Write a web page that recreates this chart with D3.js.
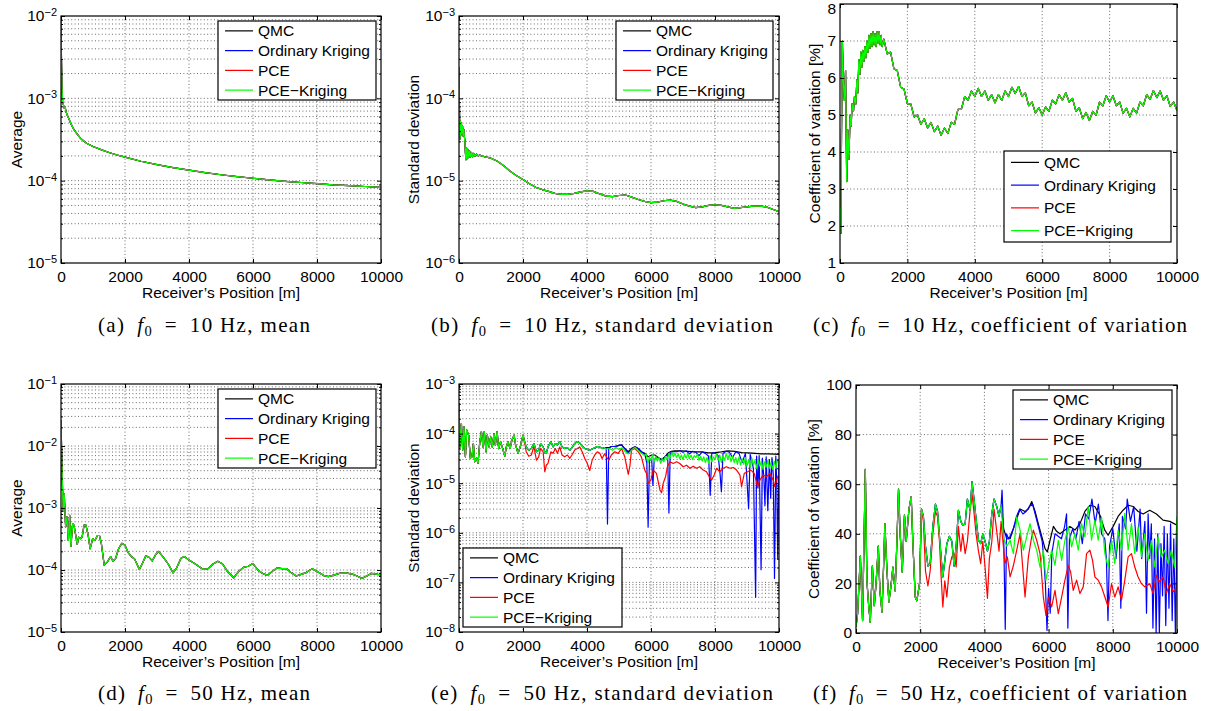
<!DOCTYPE html>
<html>
<head>
<meta charset="utf-8">
<script src="https://cdn.jsdelivr.net/npm/d3@7"></script>
<style>
  body { margin: 0; background: #fff; }
  svg { display: block; }
</style>
</head>
<body>
<svg id="svg" width="1210" height="711"></svg>
<script>
// ---- series names / colours ----
const seriesNames = ["QMC", "Ordinary Kriging", "PCE", "PCE\u2212Kriging"];
const colors = ["#000000", "#0000ff", "#ff0000", "#00ff00"];
const xTickVals = [0, 2000, 4000, 6000, 8000, 10000];

// ---- (a) f0 = 10 Hz, mean  [position m, value] (all four methods coincide) ----
const mean10 = [[0,9.5e-3],[15,3e-3],[30,1.4e-3],[50,9e-4],[80,8.2e-4],[100,7.6e-4],[130,7.8e-4],[160,6.8e-4],
  [200,6.2e-4],[250,5.6e-4],[300,5.0e-4],[400,4.2e-4],[500,3.7e-4],[600,3.3e-4],[700,3.05e-4],[800,2.85e-4],
  [1000,2.6e-4],[1250,2.38e-4],[1500,2.2e-4],[1750,2.05e-4],[2000,1.93e-4],[2500,1.72e-4],[3000,1.57e-4],
  [3500,1.44e-4],[4000,1.34e-4],[4500,1.25e-4],[5000,1.18e-4],[5500,1.12e-4],[6000,1.07e-4],[6500,1.02e-4],
  [7000,9.8e-5],[7500,9.5e-5],[8000,9.2e-5],[8500,8.9e-5],[9000,8.7e-5],[9500,8.5e-5],[10000,8.3e-5]];

// ---- (b) f0 = 10 Hz, standard deviation ----
const std10 = [[0,2.4e-4],[10,1.1e-4],[20,5e-5],[30,3.2e-5],[45,5.3e-5],[60,3.6e-5],[75,5.0e-5],[90,3.8e-5],
  [110,4.6e-5],[130,3.5e-5],[150,4.2e-5],[170,3.4e-5],[185,3.0e-5],[200,2.2e-5],[215,1.8e-5],[235,2.5e-5],
  [255,1.85e-5],[280,2.4e-5],[305,1.9e-5],[330,2.3e-5],[360,1.95e-5],[390,2.2e-5],[420,1.95e-5],[460,2.15e-5],
  [500,1.98e-5],[550,2.1e-5],[600,2.0e-5],[650,2.05e-5],[700,2.0e-5],[800,1.95e-5],[900,1.92e-5],[1000,1.87e-5],
  [1200,1.72e-5],[1400,1.52e-5],[1600,1.3e-5],[1800,1.15e-5],[2000,1.03e-5],[2200,9.2e-6],[2400,8.3e-6],
  [2600,7.8e-6],[2800,7.4e-6],[3000,7.0e-6],[3200,6.8e-6],[3400,6.8e-6],[3600,7.0e-6],[3800,7.3e-6],[4000,7.5e-6],
  [4200,7.4e-6],[4400,6.9e-6],[4600,6.5e-6],[4800,6.4e-6],[5000,6.6e-6],[5200,6.7e-6],[5400,6.3e-6],[5600,5.9e-6],
  [5800,5.6e-6],[6000,5.4e-6],[6200,5.5e-6],[6400,5.7e-6],[6600,5.8e-6],[6800,5.6e-6],[7000,5.2e-6],[7200,4.9e-6],
  [7400,4.7e-6],[7600,4.8e-6],[7800,5.0e-6],[8000,5.1e-6],[8200,5.0e-6],[8400,4.8e-6],[8600,4.6e-6],[8800,4.7e-6],
  [9000,4.8e-6],[9200,4.9e-6],[9400,4.9e-6],[9600,4.8e-6],[9800,4.5e-6],[10000,4.2e-6]];

// ---- (c) f0 = 10 Hz, coefficient of variation [%] ----
const cov10 = [[0,2.5],[25,1.8],[45,4.5],[70,7.0],[100,5.9],[130,5.4],[165,6.2],[200,3.2],[230,4.6],[265,3.8],
  [300,5.0],[330,4.7],[360,5.3],[400,5.1],[430,5.5],[470,5.3],[500,5.95],[530,5.6],[560,6.5],[590,6.1],[620,6.7],
  [650,6.3],[680,6.75],[710,6.45],[740,6.85],[770,6.55],[800,7.0],[830,6.7],[860,7.15],[890,6.8],[920,7.2],
  [950,6.85],[980,7.25],[1010,6.9],[1040,7.2],[1070,6.85],[1100,7.25],[1130,6.95],[1160,7.25],[1190,6.9],
  [1220,7.15],[1250,6.85],[1300,7.05],[1400,6.65],[1500,6.7],[1600,6.25],[1700,6.2],[1800,5.75],[1900,5.7],
  [2000,5.3],[2100,5.3],[2200,4.95],[2300,5.0],[2400,4.75],[2500,4.9],[2600,4.65],[2700,4.8],[2800,4.55],
  [2900,4.7],[3000,4.45],[3100,4.65],[3200,4.5],[3300,4.8],[3400,4.75],[3500,5.15],[3600,5.15],[3700,5.5],
  [3800,5.4],[3900,5.65],[4000,5.5],[4100,5.72],[4200,5.5],[4300,5.65],[4400,5.4],[4500,5.55],[4600,5.33],
  [4700,5.55],[4800,5.4],[4900,5.65],[5000,5.5],[5100,5.75],[5200,5.58],[5300,5.77],[5400,5.5],[5500,5.6],
  [5600,5.25],[5700,5.35],[5800,5.05],[5900,5.2],[6000,5.0],[6100,5.22],[6200,5.1],[6300,5.4],[6400,5.3],
  [6500,5.55],[6600,5.4],[6700,5.6],[6800,5.35],[6900,5.45],[7000,5.1],[7100,5.2],[7200,4.9],[7300,5.07],
  [7400,4.85],[7500,5.1],[7600,5.0],[7700,5.35],[7800,5.25],[7900,5.52],[8000,5.35],[8100,5.52],[8200,5.25],
  [8300,5.35],[8400,5.05],[8500,5.18],[8600,4.95],[8700,5.18],[8800,5.05],[8900,5.35],[9000,5.25],[9100,5.55],
  [9200,5.42],[9300,5.66],[9400,5.47],[9500,5.65],[9600,5.4],[9700,5.52],[9800,5.23],[9900,5.35],[10000,5.12]];

// ---- (d) f0 = 50 Hz, mean ----
const mean50 = [[0,2.6e-2],[40,2.8e-3],[70,9e-4],[100,1.7e-3],[145,5e-4],[185,7.2e-4],[230,3.0e-4],[270,7.6e-4],
  [310,2.4e-4],[365,5.6e-4],[405,5.3e-4],[450,3.9e-4],[510,2.6e-4],[550,3.4e-4],[600,3.2e-4],[660,3.4e-4],
  [720,5.3e-4],[780,5.3e-4],[850,3.6e-4],[910,2.2e-4],[990,3.2e-4],[1060,3.0e-4],[1140,3.6e-4],[1200,3.6e-4],
  [1260,2.7e-4],[1350,1.2e-4],[1450,1.35e-4],[1550,1.65e-4],[1620,1.4e-4],[1700,1.5e-4],[1800,2.2e-4],
  [1900,2.7e-4],[2000,2.5e-4],[2100,1.9e-4],[2200,1.65e-4],[2300,1.5e-4],[2450,1.02e-4],[2550,1.3e-4],
  [2650,1.7e-4],[2750,1.6e-4],[2850,1.4e-4],[2950,1.75e-4],[3050,2.0e-4],[3200,1.6e-4],[3350,1.25e-4],
  [3500,9e-5],[3600,1.05e-4],[3750,1.55e-4],[3850,1.65e-4],[4000,1.45e-4],[4150,1.3e-4],[4300,1.15e-4],
  [4450,1.02e-4],[4600,1.05e-4],[4750,1.25e-4],[4900,1.38e-4],[5050,1.25e-4],[5200,9.5e-5],[5400,7.5e-5],
  [5550,9.5e-5],[5700,1.1e-4],[5850,1.15e-4],[6000,1.27e-4],[6150,1.0e-4],[6300,8.8e-5],[6450,8.2e-5],
  [6600,9.5e-5],[6750,1.08e-4],[6900,1.05e-4],[7050,1.05e-4],[7200,9e-5],[7350,8e-5],[7500,8.5e-5],
  [7650,9e-5],[7850,1.05e-4],[8000,9.5e-5],[8200,8.2e-5],[8350,7.8e-5],[8500,8.2e-5],[8700,8.8e-5],
  [8900,9e-5],[9100,8.6e-5],[9250,8e-5],[9400,7.3e-5],[9550,8e-5],[9700,8.8e-5],[9850,8.6e-5],[10000,8.3e-5]];

// ---- (e) f0 = 50 Hz, standard deviation ----
const std50Early = [[0,4.0e-4],[30,5.4e-5],[75,1.6e-4],[115,4.7e-5],[155,1.37e-4],[200,3.4e-5],[240,1.18e-4],
  [300,9.3e-5],[355,3.2e-5],[405,3.4e-5],[450,6.3e-5],[490,2.7e-5],[550,3.2e-5],[595,2.5e-5],[645,6.3e-5],
  [700,1.1e-4],[750,5.4e-5],[790,1.1e-4],[845,4.3e-5],[885,9.3e-5],[940,5.4e-5],[990,8.6e-5],[1040,5.4e-5],
  [1095,1.0e-4],[1135,5.9e-5],[1190,1.1e-4],[1240,5.0e-5],[1300,6.9e-5],[1375,4.7e-5],[1430,3.5e-5],
  [1480,5.4e-5],[1530,6.9e-5],[1595,5.0e-5],[1655,7.4e-5],[1720,9.3e-5],[1770,5.9e-5],[1845,4.0e-5],
  [1930,5.9e-5],[2000,9.3e-5]];
const std50Mid = [[2050,6.9e-5],[2100,5.4e-5],[2180,4.6e-5],[2260,5.0e-5],[2340,6.3e-5],[2420,4.3e-5],
  [2490,4.6e-5],[2550,6.3e-5],[2630,5.4e-5],[2680,4.3e-5],[2730,4.0e-5],[2780,5.4e-5],[2870,6.9e-5],
  [2940,5.4e-5],[3010,6.3e-5],[3075,5.9e-5],[3150,6.9e-5],[3220,5.4e-5],[3300,5.0e-5],[3390,5.2e-5],
  [3460,4.6e-5],[3530,5.2e-5],[3615,6.3e-5],[3700,6.9e-5],[3770,6.5e-5],[3850,5.6e-5],[3930,5.0e-5],
  [4010,4.8e-5],[4085,4.6e-5],[4160,4.9e-5],[4240,5.2e-5],[4320,5.5e-5],[4400,5.4e-5],[4470,5.0e-5],
  [4550,5.2e-5]];
const std50QmcTail = [[4680,5.2e-5],[4760,5.5e-5],[4850,5.5e-5],[4920,5.6e-5],[5000,5.8e-5],[5080,5.9e-5],
  [5180,5.0e-5],[5290,4.3e-5],[5390,5.0e-5],[5500,5.4e-5],[5600,5.0e-5],[5700,4.3e-5],[5810,4.0e-5],
  [5910,3.4e-5],[6020,3.7e-5],[6120,3.7e-5],[6225,3.3e-5],[6330,3.0e-5],[6430,3.4e-5],[6540,4.1e-5],
  [6640,4.4e-5],[6750,4.5e-5],[6950,4.5e-5],[7160,4.4e-5],[7370,4.3e-5],[7580,4.3e-5],[7790,4.1e-5],
  [8000,4.15e-5],[8200,4.3e-5],[8410,4.5e-5],[8620,4.4e-5],[8830,4.15e-5],[9040,4.1e-5],[9250,4.0e-5],
  [9450,3.9e-5],[9660,3.9e-5],[9870,3.85e-5],[10000,3.8e-5]];
const std50OkTail = [[4600,5.2e-5],[4640,1.5e-6],[4680,5.0e-5],[4760,5.5e-5],[4850,5.5e-5],[4920,5.6e-5],
  [5000,5.8e-5],[5080,5.9e-5],[5180,5.0e-5],[5290,4.0e-5],[5390,5.0e-5],[5500,5.4e-5],[5600,5.0e-5],
  [5700,4.3e-5],[5810,3.8e-5],[5870,2.5e-5],[5910,1.3e-6],[5950,2.8e-5],[6020,3.2e-5],[6060,9e-6],
  [6100,3.0e-5],[6200,3.3e-5],[6330,2.9e-5],[6430,3.4e-5],[6520,3.8e-5],[6560,2.5e-6],[6600,4.0e-5],
  [6700,4.4e-5],[6800,4.3e-5],[6900,4.5e-5],[7000,4.2e-5],[7100,4.5e-5],[7200,3.9e-5],[7300,4.4e-5],
  [7400,4.2e-5],[7500,3.6e-5],[7600,4.3e-5],[7700,4.0e-5],[7800,3.5e-5],[7850,5.7e-6],[7900,4.0e-5],
  [8000,4.1e-5],[8100,3.6e-5],[8160,1.5e-5],[8200,6.7e-6],[8250,4.0e-5],[8350,4.4e-5],[8450,4.2e-5],
  [8550,3.3e-5],[8650,4.3e-5],[8750,4.0e-5],[8850,2.6e-5],[8950,4.0e-5],[9050,3.1e-6],[9100,3.8e-5],
  [9200,2.0e-5],[9270,5e-8],[9300,3.5e-5],[9340,8e-6],[9380,3.6e-5],[9440,1.8e-7],[9480,3.2e-5],[9530,1.2e-5],
  [9560,3.5e-6],[9600,3.4e-5],[9650,2.8e-6],[9700,3.0e-5],[9740,5e-6],[9780,3.3e-5],[9820,1.5e-5],
  [9860,1.2e-7],[9900,3.5e-5],[9930,1.0e-5],[9960,3e-7],[10000,3.0e-5]];
const std50PceTail = [[2050,6.9e-5],[2100,4.3e-5],[2180,3.5e-5],[2260,3.7e-5],[2340,5.5e-5],[2420,2.9e-5],
  [2490,3.4e-5],[2550,5.0e-5],[2630,4.3e-5],[2680,1.7e-5],[2730,2.3e-5],[2780,2.5e-5],[2870,4.3e-5],
  [2940,4.0e-5],[3010,5.0e-5],[3075,4.0e-5],[3150,5.4e-5],[3220,3.7e-5],[3300,3.4e-5],[3390,3.7e-5],
  [3460,3.15e-5],[3530,3.7e-5],[3615,4.65e-5],[3700,5.0e-5],[3770,5.4e-5],[3850,4.3e-5],[3930,3.15e-5],
  [4010,2.5e-5],[4085,1.8e-5],[4160,2.9e-5],[4240,3.7e-5],[4320,4.3e-5],[4400,4.0e-5],[4470,3.15e-5],
  [4550,3.9e-5],[4680,2.9e-5],[4760,3.7e-5],[4870,4.3e-5],[4975,4.0e-5],[5080,5.0e-5],[5180,3.4e-5],
  [5290,1.5e-5],[5340,2.2e-5],[5390,4.65e-5],[5495,5.0e-5],[5600,4.3e-5],[5700,3.4e-5],[5810,1.8e-5],
  [5860,1.58e-5],[5910,9.9e-6],[5995,1.15e-5],[6070,1.84e-5],[6170,1.58e-5],[6280,7.3e-6],[6330,6.4e-6],
  [6380,9.9e-6],[6455,1.35e-5],[6515,2.15e-5],[6590,2.7e-5],[6695,2.5e-5],[6800,2.7e-5],[6900,2.5e-5],
  [7005,2.15e-5],[7110,2.3e-5],[7215,2.0e-5],[7320,2.2e-5],[7420,2.0e-5],[7525,2.15e-5],[7630,1.84e-5],
  [7735,1.7e-5],[7820,1.35e-5],[7890,1.15e-5],[7975,1.46e-5],[8050,2.0e-5],[8150,1.7e-5],[8255,2.0e-5],
  [8360,2.15e-5],[8465,2.0e-5],[8570,2.07e-5],[8675,1.84e-5],[8780,1.46e-5],[8830,8.5e-6],[8915,1.58e-5],
  [9020,1.7e-5],[9120,1.84e-5],[9225,1.58e-5],[9330,8.5e-6],[9400,1.15e-5],[9505,1.46e-5],[9610,1.35e-5],
  [9715,1.58e-5],[9820,1.15e-5],[9870,8.5e-6],[9955,1.35e-5],[10000,1.46e-5]];
const std50PkTail = [[4600,4.8e-5],[4700,5.0e-5],[4800,4.6e-5],[4900,5.3e-5],[5000,4.8e-5],[5100,5.2e-5],
  [5200,4.3e-5],[5300,3.9e-5],[5400,4.7e-5],[5500,5.3e-5],[5600,4.5e-5],[5700,4.0e-5],[5800,3.6e-5],
  [5850,3.9e-5],[5900,2.5e-5],[5950,3.4e-5],[6000,2.9e-5],[6050,3.7e-5],[6100,2.7e-5],[6150,3.5e-5],
  [6200,2.8e-5],[6250,3.3e-5],[6300,2.5e-5],[6350,3.1e-5],[6400,2.7e-5],[6450,3.5e-5],[6500,3.0e-5],
  [6550,3.8e-5],[6600,3.2e-5],[6650,4.2e-5],[6700,3.4e-5],[6750,4.0e-5],[6800,3.3e-5],[6850,3.9e-5],
  [6900,3.1e-5],[6950,3.7e-5],[7000,3.0e-5],[7050,3.8e-5],[7100,3.2e-5],[7150,4.0e-5],[7200,3.1e-5],
  [7250,3.7e-5],[7300,3.0e-5],[7350,3.6e-5],[7400,3.3e-5],[7450,3.9e-5],[7500,2.9e-5],[7550,3.5e-5],
  [7600,2.8e-5],[7650,3.4e-5],[7700,2.6e-5],[7750,3.3e-5],[7800,2.5e-5],[7850,3.6e-5],[7900,2.7e-5],
  [7950,3.4e-5],[8000,3.0e-5],[8050,3.9e-5],[8100,2.9e-5],[8150,3.7e-5],[8200,2.6e-5],[8250,3.6e-5],
  [8300,2.9e-5],[8350,4.0e-5],[8400,3.0e-5],[8450,3.8e-5],[8500,2.7e-5],[8550,3.5e-5],[8600,2.6e-5],
  [8650,3.3e-5],[8700,2.4e-5],[8750,3.4e-5],[8800,2.3e-5],[8850,3.1e-5],[8900,2.4e-5],[8950,3.3e-5],
  [9000,2.2e-5],[9050,3.0e-5],[9100,2.1e-5],[9150,3.2e-5],[9200,2.3e-5],[9250,2.9e-5],[9300,2.0e-5],
  [9350,3.0e-5],[9400,2.2e-5],[9450,2.8e-5],[9500,1.9e-5],[9550,2.7e-5],[9600,2.1e-5],[9650,2.9e-5],
  [9700,2.0e-5],[9750,2.6e-5],[9800,1.9e-5],[9850,2.8e-5],[9900,2.0e-5],[9950,3.0e-5],[10000,2.4e-5]];

// ---- (f) f0 = 50 Hz, coefficient of variation [%] ----
const cov50Early = [[0,2.4],[50,7.8],[135,31],[205,5],[290,66],[340,21],[395,11],[445,4.4],[510,27],[570,11],
  [620,19],[695,35],[745,17],[810,8.5],[860,27],[900,44],[965,25],[1025,12.5],[1090,19],[1150,26.6],[1220,17],
  [1275,37],[1325,58],[1380,39],[1440,24.6],[1510,47.5],[1565,37],[1650,50],[1720,55],[1770,37],[1845,14.5],
  [1895,13],[1980,20]];
const cov50Mid = [[2040,50],[2100,47],[2165,35],[2240,27],[2310,28],[2395,43],[2475,52],[2540,49],[2600,39],
  [2655,30],[2705,22.6],[2765,29],[2830,36],[2910,39],[2985,37],[3055,27],[3120,35],[3190,49.5],[3265,45],
  [3325,43.5],[3400,44],[3470,54],[3555,49.5],[3615,61],[3680,53.6],[3740,46],[3815,37.4],[3885,36],[3950,40],
  [4020,37],[4095,33],[4155,37],[4230,48],[4300,54],[4385,51],[4455,47],[4520,51.5]];
const cov50QmcTail = [[4600,42],[4700,38],[4800,38],[4955,44],[5110,50],[5265,49],[5370,50],[5475,53],
  [5580,49],[5680,44],[5785,39],[5890,34],[5960,32.7],[6045,37.4],[6150,43],[6250,41],[6355,40],[6510,41.5],
  [6665,43],[6820,41.5],[6975,44],[7130,49],[7285,51.5],[7440,51],[7600,47.5],[7750,41.5],[7855,39.4],
  [8010,43],[8165,47],[8320,49.5],[8480,51.5],[8635,51],[8790,49],[8945,48],[9150,49.5],[9360,48],
  [9565,45.5],[9775,45],[10000,43.5]];
const cov50OkTail = [[4550,57.6],[4600,40],[4650,1.5],[4690,40],[4750,38],[4800,39],[4900,42],[5000,47],
  [5100,50],[5200,48],[5300,49],[5400,51],[5500,52],[5600,47],[5700,42],[5800,37],[5850,30],[5900,20],
  [5950,1],[6000,18],[6050,8],[6100,32],[6200,40],[6300,39],[6400,38],[6500,43],[6560,48],[6600,2],[6650,38],
  [6750,42],[6850,38],[6950,45],[7050,36],[7150,48],[7250,46],[7350,54],[7450,44],[7550,52],[7650,40],
  [7750,38],[7800,30],[7850,5],[7900,35],[8000,42],[8100,30],[8200,44],[8250,10],[8300,47],[8400,42],
  [8450,54],[8550,45],[8650,51],[8750,33],[8850,50],[8900,30],[9000,45],[9050,8],[9100,48],[9150,30],
  [9200,44],[9250,2],[9300,38],[9350,0],[9400,40],[9450,0],[9500,36],[9550,15],[9600,43],[9650,3],[9700,40],
  [9750,10],[9800,44],[9850,5],[9900,38],[9950,0],[10000,40]];
const cov50PceTail = [[2040,50],[2100,45],[2165,25],[2240,19],[2310,25],[2395,40],[2475,49],[2540,47],
  [2600,37],[2655,22],[2705,10.5],[2765,21],[2830,14.5],[2910,26.6],[2985,30.7],[3055,32],[3120,26.6],
  [3190,43],[3265,33],[3325,40],[3400,32],[3470,37],[3555,49.5],[3615,56],[3680,48],[3740,40],[3815,33],
  [3885,28],[3950,37],[4020,26.6],[4095,14],[4155,30],[4230,36.7],[4300,50],[4385,41],[4455,33],[4520,45],
  [4640,28],[4715,30.7],[4800,22.6],[4900,27],[5007,33.4],[5111,40],[5266,14.5],[5370,30.7],[5473,38.8],
  [5525,41.5],[5629,37.4],[5732,32],[5836,14.5],[5919,7.1],[5991,14.5],[6095,10.5],[6199,17.2],[6302,7.8],
  [6406,14.5],[6509,21.3],[6613,27.3],[6686,24.6],[6768,17.2],[6872,21.3],[6976,15.9],[7079,18.6],[7183,32],
  [7286,33.4],[7369,29.3],[7442,22.6],[7545,21.3],[7649,18.6],[7753,14.5],[7856,10.5],[7960,19.9],[8063,14.5],
  [8167,18.6],[8271,13.2],[8374,21.3],[8478,30.7],[8581,32],[8685,26.6],[8789,22.6],[8892,19.9],[8996,18.6],
  [9151,19.9],[9255,15.9],[9358,23.3],[9441,20.6],[9566,22.6],[9669,15.9],[9773,19.9],[9876,16.6],[10000,18.6]];
const cov50PkTail = [[4600,38],[4700,35],[4800,37.4],[4904,32],[5007,46.8],[5111,41.5],[5214,33.4],[5318,38.8],
  [5422,44.1],[5525,37.4],[5629,33.4],[5732,26.6],[5836,33.4],[5919,21.3],[5991,26.6],[6095,33.4],[6199,27.3],
  [6302,37.4],[6406,29.3],[6509,37.4],[6613,42.8],[6717,34.7],[6820,40.1],[6924,33.4],[7027,44.1],[7131,38.8],
  [7235,50.9],[7338,37.4],[7442,45.5],[7545,37.4],[7649,46.8],[7753,32],[7856,26.6],[7960,37.4],[8063,28],
  [8167,41.5],[8271,33.4],[8374,48.2],[8478,33.4],[8581,44.1],[8685,32],[8789,42.8],[8892,30.7],[8996,40.1],
  [9099,29.3],[9203,37.4],[9306,26.6],[9410,38.8],[9514,30.7],[9617,33.4],[9721,28],[9825,33.4],[9928,26.6],
  [10000,47]];

// ---- panels ----
const panels = [
  { id: "a", l: 61, r: 381, t: 16, b: 263, log: true, yDomain: [1e-5, 1e-2], ylabel: "Average", ylx: 16,
    series: [mean10, mean10, mean10, mean10], legend: { x: 218, y: 21, w: 158, h: 79 },
    cap: ["(a)", "10", "mean"], capX: 204, capY: 332, capW: 212 },
  { id: "b", l: 459, r: 779, t: 16, b: 263, log: true, yDomain: [1e-6, 1e-3], ylabel: "Standard deviation", ylx: 413,
    series: [std10, std10, std10, std10], legend: { x: 616, y: 21, w: 157, h: 79 },
    cap: ["(b)", "10", "standard deviation"], capX: 602, capY: 332, capW: 342 },
  { id: "c", l: 840, r: 1177, t: 4, b: 263, log: false, yDomain: [1, 8], yTicks: [1, 2, 3, 4, 5, 6, 7, 8],
    ylabel: "Coefficient of variation [%]", ylx: 814,
    series: [cov10, cov10, cov10, cov10], legend: { x: 1004, y: 151, w: 167, h: 91 },
    cap: ["(c)", "10", "coefficient of variation"], capX: 1000, capY: 332, capW: 374 },
  { id: "d", l: 61, r: 381, t: 384, b: 632, log: true, yDomain: [1e-5, 1e-1], ylabel: "Average", ylx: 16,
    series: [mean50, mean50, mean50, mean50], legend: { x: 218, y: 389, w: 158, h: 79 },
    cap: ["(d)", "50", "mean"], capX: 204, capY: 700, capW: 212 },
  { id: "e", l: 459, r: 779, t: 384, b: 632, log: true, yDomain: [1e-8, 1e-3], ylabel: "Standard deviation", ylx: 413,
    series: [std50Early.concat(std50Mid, std50QmcTail), std50Early.concat(std50Mid, std50OkTail),
             std50Early.concat(std50PceTail), std50Early.concat(std50Mid, std50PkTail)],
    legend: { x: 463, y: 548, w: 159, h: 79 },
    cap: ["(e)", "50", "standard deviation"], capX: 602, capY: 700, capW: 342 },
  { id: "f", l: 856, r: 1177, t: 385, b: 633, log: false, yDomain: [0, 100], yTicks: [0, 20, 40, 60, 80, 100],
    ylabel: "Coefficient of variation [%]", ylx: 813,
    series: [cov50Early.concat(cov50Mid, cov50QmcTail), cov50Early.concat(cov50Mid, cov50OkTail),
             cov50Early.concat(cov50PceTail), cov50Early.concat(cov50Mid, cov50PkTail)],
    legend: { x: 1013, y: 390, w: 159, h: 79 },
    cap: ["(f)", "50", "coefficient of variation"], capX: 1000, capY: 700, capW: 374 }
];

const svg = d3.select("#svg");
const sans = '"Liberation Sans", Arial, Helvetica, sans-serif';
const serif = '"Liberation Serif", "Times New Roman", serif';
const fs = 15.5;
const defs = svg.append("defs");

function styleAxis(ax) {
  ax.select(".domain").remove();
  ax.attr("font-family", sans).attr("font-size", fs);
  ax.selectAll(".tick line").attr("stroke", "#000");
  ax.selectAll(".tick text").attr("fill", "#000");
}

function drawPanel(p) {
  const g = svg.append("g");
  const x = d3.scaleLinear().domain([0, 10000]).range([p.l, p.r]);
  const y = (p.log ? d3.scaleLog() : d3.scaleLinear()).domain(p.yDomain).range([p.b, p.t]);
  const allY = p.log ? y.ticks() : p.yTicks;
  const isMajor = v => !p.log || Math.abs(Math.log10(v) - Math.round(Math.log10(v))) < 1e-9;
  const majors = allY.filter(isMajor);
  const minors = allY.filter(v => !isMajor(v));

  // dotted grid
  const grid = g.append("g").attr("stroke", "#444").attr("stroke-width", 0.8)
    .attr("stroke-dasharray", "1,2.4").attr("fill", "none");
  xTickVals.filter(v => v > 0 && v < 10000).forEach(v => {
    grid.append("line").attr("x1", x(v)).attr("x2", x(v)).attr("y1", p.t).attr("y2", p.b);
  });
  allY.forEach(v => {
    const yy = y(v);
    if (yy > p.t + 0.5 && yy < p.b - 0.5)
      grid.append("line").attr("x1", p.l).attr("x2", p.r).attr("y1", yy).attr("y2", yy);
  });

  // curves
  defs.append("clipPath").attr("id", "clip-" + p.id).append("rect")
    .attr("x", p.l).attr("y", p.t).attr("width", p.r - p.l).attr("height", p.b - p.t);
  const line = d3.line().x(d => x(d[0])).y(d => y(d[1]));
  g.append("g").attr("clip-path", `url(#clip-${p.id})`)
    .selectAll("path").data(p.series).join("path")
    .attr("fill", "none")
    .attr("stroke", (d, i) => colors[i])
    .attr("stroke-width", 1.2)
    .attr("stroke-linejoin", "round")
    .attr("d", line);

  // axes (ticks inside, mirrored)
  g.append("g").attr("transform", `translate(0,${p.b})`)
    .call(d3.axisBottom(x).tickValues(xTickVals).tickSize(-4).tickPadding(8).tickFormat(d3.format("d")))
    .call(styleAxis);
  g.append("g").attr("transform", `translate(0,${p.t})`)
    .call(d3.axisTop(x).tickValues(xTickVals).tickSize(-4).tickFormat(""))
    .call(styleAxis);

  const left = g.append("g").attr("transform", `translate(${p.l},0)`)
    .call(d3.axisLeft(y).tickValues(majors).tickSize(-4).tickPadding(4).tickFormat(d3.format("d")))
    .call(styleAxis);
  // keep a label that would start above the top edge just inside the picture
  left.selectAll(".tick text").filter(d => y(d) < 10).attr("dy", "0.62em");
  if (p.log) {
    left.selectAll(".tick text").each(function (d) {
      const t = d3.select(this);
      const e = Math.round(Math.log10(d));
      t.text(null);
      t.append("tspan").text("10");
      t.append("tspan").attr("dy", "-0.5em").attr("font-size", 11).text("\u2212" + Math.abs(e));
    });
    g.append("g").attr("transform", `translate(${p.l},0)`)
      .call(d3.axisLeft(y).tickValues(minors).tickSize(-2).tickFormat("")).call(styleAxis);
    g.append("g").attr("transform", `translate(${p.r},0)`)
      .call(d3.axisRight(y).tickValues(minors).tickSize(-2).tickFormat("")).call(styleAxis);
  }
  g.append("g").attr("transform", `translate(${p.r},0)`)
    .call(d3.axisRight(y).tickValues(majors).tickSize(-4).tickFormat("")).call(styleAxis);

  // frame
  g.append("rect").attr("x", p.l).attr("y", p.t).attr("width", p.r - p.l).attr("height", p.b - p.t)
    .attr("fill", "none").attr("stroke", "#000").attr("stroke-width", 1.2);

  // axis titles
  g.append("text").attr("x", (p.l + p.r) / 2).attr("y", p.b + 35)
    .attr("text-anchor", "middle").attr("font-family", sans).attr("font-size", fs)
    .text("Receiver\u2019s Position [m]");
  g.append("text").attr("transform", `translate(${p.ylx + 5.5},${(p.t + p.b) / 2}) rotate(-90)`)
    .attr("text-anchor", "middle").attr("font-family", sans).attr("font-size", fs)
    .text(p.ylabel);

  // legend
  const lg = p.legend;
  const leg = g.append("g");
  leg.append("rect").attr("x", lg.x).attr("y", lg.y).attr("width", lg.w).attr("height", lg.h)
    .attr("fill", "#fff").attr("stroke", "#000").attr("stroke-width", 1.2);
  seriesNames.forEach((name, i) => {
    const cy = lg.y + lg.h * (2 * i + 1) / 8;
    leg.append("line").attr("x1", lg.x + 7).attr("x2", lg.x + 35).attr("y1", cy).attr("y2", cy)
      .attr("stroke", colors[i]).attr("stroke-width", 1.2);
    leg.append("text").attr("x", lg.x + 40).attr("y", cy + 5.5)
      .attr("font-family", sans).attr("font-size", fs).text(name);
  });

  // caption (serif, like the LaTeX subcaption)
  const cap = svg.append("text").attr("x", p.capX).attr("y", p.capY)
    .attr("text-anchor", "middle").attr("font-family", serif).attr("font-size", 21)
    .attr("textLength", p.capW).attr("lengthAdjust", "spacing");
  cap.append("tspan").text(p.cap[0] + "\u2002");
  cap.append("tspan").attr("font-style", "italic").text("f");
  cap.append("tspan").attr("font-size", 14.5).attr("dy", 4).text("0");
  cap.append("tspan").attr("dy", -4).text("\u2002=\u2002" + p.cap[1] + " Hz, " + p.cap[2]);
}

panels.forEach(drawPanel);
</script>
</body>
</html>
